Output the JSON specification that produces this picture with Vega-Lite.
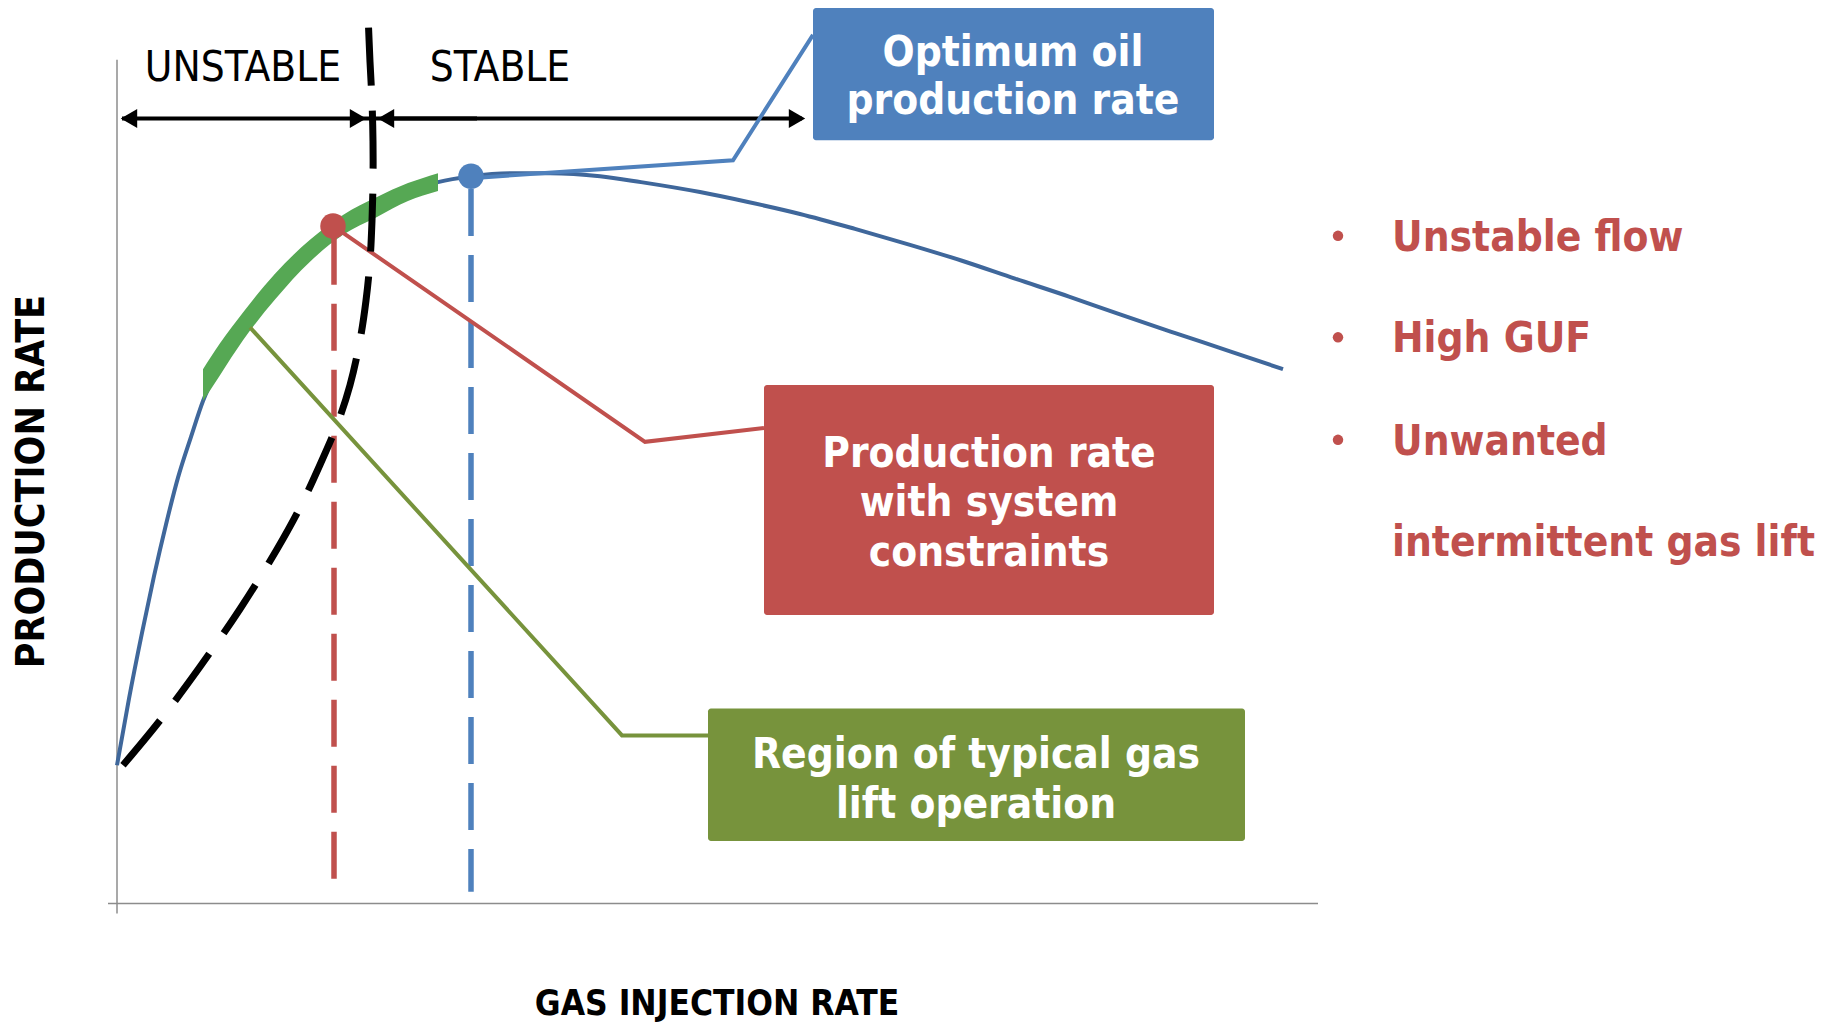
{
  "$schema": "https://vega.github.io/schema/vega-lite/v6.json",
  "width": 1829,
  "height": 1022,
  "autosize": {"type": "fit", "contains": "padding"},
  "padding": 0,
  "background": "white",
  "config": {"view": {"stroke": null}},
  "datasets": {
    "axes": [
      {"gas": 0, "rate": 848, "gas2": 0, "rate2": -10},
      {"gas": -9, "rate": 0, "gas2": 1201, "rate2": 0}
    ],
    "performance": [
      {"gas": 0, "rate": 139}, {"gas": 12, "rate": 206}, {"gas": 25, "rate": 272},
      {"gas": 37, "rate": 329}, {"gas": 49, "rate": 381}, {"gas": 61, "rate": 428},
      {"gas": 74, "rate": 469}, {"gas": 86, "rate": 505}, {"gas": 105, "rate": 545},
      {"gas": 126, "rate": 582}, {"gas": 158, "rate": 620}, {"gas": 193, "rate": 656},
      {"gas": 226, "rate": 681}, {"gas": 260, "rate": 700}, {"gas": 291, "rate": 715},
      {"gas": 321, "rate": 725}, {"gas": 354, "rate": 731}, {"gas": 393, "rate": 734},
      {"gas": 433, "rate": 734}, {"gas": 483, "rate": 731}, {"gas": 524, "rate": 725},
      {"gas": 583, "rate": 715}, {"gas": 631, "rate": 705}, {"gas": 683, "rate": 693},
      {"gas": 738, "rate": 678}, {"gas": 793, "rate": 662}, {"gas": 845, "rate": 646},
      {"gas": 898, "rate": 628}, {"gas": 952, "rate": 610}, {"gas": 1003, "rate": 592},
      {"gas": 1059, "rate": 573}, {"gas": 1113, "rate": 555}, {"gas": 1166, "rate": 537}
    ],
    "typicalBand": [
      {"gas": 86, "rate": 537, "rate2": 505},
      {"gas": 103, "rate": 563, "rate2": 531},
      {"gas": 126, "rate": 594, "rate2": 566},
      {"gas": 158, "rate": 633, "rate2": 607},
      {"gas": 193, "rate": 667, "rate2": 645},
      {"gas": 226, "rate": 692, "rate2": 672},
      {"gas": 260, "rate": 710, "rate2": 690},
      {"gas": 291, "rate": 724, "rate2": 706},
      {"gas": 321, "rate": 734, "rate2": 716}
    ],
    "stability": [
      {"gas": 6, "rate": 139}, {"gas": 43, "rate": 184}, {"gas": 83, "rate": 238},
      {"gas": 123, "rate": 296}, {"gas": 160, "rate": 356}, {"gas": 183, "rate": 398},
      {"gas": 203, "rate": 441}, {"gas": 220, "rate": 481}, {"gas": 233, "rate": 521},
      {"gas": 243, "rate": 566}, {"gas": 249, "rate": 606}, {"gas": 253, "rate": 646},
      {"gas": 255, "rate": 686}, {"gas": 256, "rate": 726}, {"gas": 256, "rate": 766},
      {"gas": 255, "rate": 806}, {"gas": 253, "rate": 846}, {"gas": 251, "rate": 894}
    ],
    "verticals": [
      {"series": "constraints", "gas": 217, "rate": 669, "rate2": 10},
      {"series": "optimum", "gas": 354, "rate": 718, "rate2": 12}
    ],
    "leaders": [
      {"series": "typical", "i": 0, "gas": 133, "rate": 579},
      {"series": "typical", "i": 1, "gas": 505, "rate": 169},
      {"series": "typical", "i": 2, "gas": 591, "rate": 169},
      {"series": "constraints", "i": 0, "gas": 216, "rate": 681},
      {"series": "constraints", "i": 1, "gas": 528, "rate": 464},
      {"series": "constraints", "i": 2, "gas": 647, "rate": 478},
      {"series": "optimum", "i": 0, "gas": 354, "rate": 729},
      {"series": "optimum", "i": 1, "gas": 616, "rate": 747},
      {"series": "optimum", "i": 2, "gas": 696, "rate": 873}
    ],
    "dots": [
      {"series": "constraints", "gas": 216, "rate": 681},
      {"series": "optimum", "gas": 354, "rate": 731}
    ],
    "arrowLines": [
      {"gas": 5, "gas2": 360, "rate": 789, "rate2": 789},
      {"gas": 266, "gas2": 685, "rate": 789, "rate2": 789}
    ],
    "arrowHeads": [
      {"dir": "left", "gas": 12, "rate": 789},
      {"dir": "right", "gas": 241, "rate": 789},
      {"dir": "left", "gas": 269, "rate": 789},
      {"dir": "right", "gas": 680, "rate": 789}
    ],
    "boxes": [
      {"series": "optimum", "gas": 696, "gas2": 1097, "rate": 900, "rate2": 767},
      {"series": "constraints", "gas": 647, "gas2": 1097, "rate": 521, "rate2": 290},
      {"series": "typical", "gas": 591, "gas2": 1128, "rate": 196, "rate2": 63}
    ],
    "regions": [
      {"label": "UNSTABLE", "gas": 126, "rate": 827},
      {"label": "STABLE", "gas": 383, "rate": 827}
    ],
    "boxText": [
      {"label": "Optimum oil", "gas": 896, "rate": 842},
      {"label": "production rate", "gas": 896, "rate": 793},
      {"label": "Production rate", "gas": 872, "rate": 439},
      {"label": "with system", "gas": 872, "rate": 389},
      {"label": "constraints", "gas": 872, "rate": 339},
      {"label": "Region of typical gas", "gas": 859, "rate": 136},
      {"label": "lift operation", "gas": 859, "rate": 86}
    ],
    "bulletText": [
      {"label": "Unstable flow", "gas": 1275, "rate": 656},
      {"label": "High GUF", "gas": 1275, "rate": 554},
      {"label": "Unwanted", "gas": 1275, "rate": 451},
      {"label": "intermittent gas lift", "gas": 1275, "rate": 349}
    ],
    "bulletDots": [
      {"gas": 1221, "rate": 671},
      {"gas": 1221, "rate": 569},
      {"gas": 1221, "rate": 466}
    ],
    "yTitle": [{"label": "PRODUCTION RATE", "gas": -73, "rate": 424}],
    "xTitle": [{"label": "GAS INJECTION RATE", "gas": 600, "rate": -112}]
  },
  "encoding": {
    "x": {"field": "gas", "type": "quantitative", "scale": {"domain": [-117, 1712], "nice": false, "zero": false}, "axis": null},
    "y": {"field": "rate", "type": "quantitative", "scale": {"domain": [-116, 906], "nice": false, "zero": false}, "axis": null}
  },
  "layer": [
    {
      "data": {"name": "axes"},
      "mark": {"type": "rule", "color": "#8C8C8C", "strokeWidth": 1.5},
      "encoding": {"x2": {"field": "gas2"}, "y2": {"field": "rate2"}}
    },
    {
      "data": {"name": "performance"},
      "mark": {"type": "line", "color": "#3F679B", "strokeWidth": 4, "interpolate": "monotone"},
      "encoding": {}
    },
    {
      "data": {"name": "typicalBand"},
      "mark": {"type": "area", "color": "#56A854", "opacity": 1, "interpolate": "monotone"},
      "encoding": {"y2": {"field": "rate2"}}
    },
    {
      "data": {"name": "verticals"},
      "mark": {"type": "rule", "strokeWidth": 5.5, "strokeDash": [47, 19], "strokeCap": "butt"},
      "encoding": {
        "y2": {"field": "rate2"},
        "color": {"field": "series", "type": "nominal", "scale": {"domain": ["optimum", "constraints", "typical"], "range": ["#4F81BD", "#C0504D", "#77933C"]}, "legend": null}
      }
    },
    {
      "data": {"name": "arrowLines"},
      "mark": {"type": "rule", "color": "#000000", "strokeWidth": 4},
      "encoding": {"x2": {"field": "gas2"}, "y2": {"field": "rate2"}}
    },
    {
      "data": {"name": "arrowHeads"},
      "mark": {"type": "point", "filled": true, "color": "#000000", "size": 360, "opacity": 1},
      "encoding": {
        "shape": {"field": "dir", "type": "nominal", "scale": {"domain": ["left", "right"], "range": ["triangle-left", "triangle-right"]}, "legend": null}
      }
    },
    {
      "data": {"name": "leaders"},
      "mark": {"type": "line", "strokeWidth": 4},
      "encoding": {
        "order": {"field": "i", "type": "quantitative"},
        "color": {"field": "series", "type": "nominal", "legend": null}
      }
    },
    {
      "data": {"name": "stability"},
      "mark": {"type": "line", "color": "#000000", "strokeWidth": 7, "strokeDash": [58, 25], "strokeCap": "butt", "interpolate": "catmull-rom"},
      "encoding": {"order": {"field": "rate", "type": "quantitative"}}
    },
    {
      "data": {"name": "dots"},
      "mark": {"type": "point", "filled": true, "size": 650, "opacity": 1, "shape": "circle"},
      "encoding": {"color": {"field": "series", "type": "nominal", "legend": null}}
    },
    {
      "data": {"name": "boxes"},
      "mark": {"type": "rect", "cornerRadius": 3},
      "encoding": {
        "x2": {"field": "gas2"},
        "y2": {"field": "rate2"},
        "color": {"field": "series", "type": "nominal", "legend": null}
      }
    },
    {
      "data": {"name": "regions"},
      "mark": {"type": "text", "font": "'DejaVu Sans Condensed', 'DejaVu Sans', sans-serif", "fontSize": 42, "align": "center", "baseline": "alphabetic", "color": "#000000"},
      "encoding": {"text": {"field": "label"}}
    },
    {
      "data": {"name": "boxText"},
      "mark": {"type": "text", "font": "'DejaVu Sans Condensed', 'DejaVu Sans', sans-serif", "fontSize": 42, "fontWeight": "bold", "align": "center", "baseline": "alphabetic", "color": "#FFFFFF"},
      "encoding": {"text": {"field": "label"}}
    },
    {
      "data": {"name": "bulletText"},
      "mark": {"type": "text", "font": "'DejaVu Sans Condensed', 'DejaVu Sans', sans-serif", "fontSize": 42, "fontWeight": "bold", "align": "left", "baseline": "alphabetic", "color": "#C0504D"},
      "encoding": {"text": {"field": "label"}}
    },
    {
      "data": {"name": "bulletDots"},
      "mark": {"type": "point", "filled": true, "shape": "circle", "size": 110, "color": "#C0504D", "opacity": 1}
    },
    {
      "data": {"name": "yTitle"},
      "mark": {"type": "text", "font": "'DejaVu Sans Condensed', 'DejaVu Sans', sans-serif", "fontSize": 39, "fontWeight": "bold", "align": "center", "baseline": "alphabetic", "angle": 270, "color": "#000000"},
      "encoding": {"text": {"field": "label"}}
    },
    {
      "data": {"name": "xTitle"},
      "mark": {"type": "text", "font": "'DejaVu Sans Condensed', 'DejaVu Sans', sans-serif", "fontSize": 35, "fontWeight": "bold", "align": "center", "baseline": "alphabetic", "color": "#000000"},
      "encoding": {"text": {"field": "label"}}
    }
  ]
}
